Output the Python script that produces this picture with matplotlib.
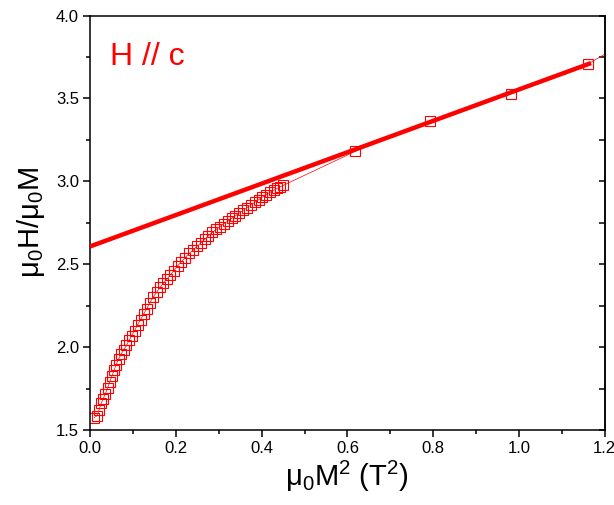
import matplotlib
matplotlib.use('Agg')
import matplotlib.pyplot as plt
from matplotlib.ticker import MultipleLocator
import numpy as np

plt.rcParams['font.family'] = ['Liberation Sans', 'DejaVu Sans']
plt.rcParams['mathtext.fontset'] = 'custom'
plt.rcParams['mathtext.rm'] = 'Liberation Sans'
plt.rcParams['mathtext.it'] = 'Liberation Sans'

# measured points: mu0 M^2 (T^2) vs mu0 H / mu0 M
m2 = [0.010, 0.016, 0.021, 0.026, 0.031, 0.036, 0.041, 0.046, 0.051, 0.056,
      0.061, 0.067, 0.073, 0.079, 0.085, 0.091, 0.097, 0.104, 0.111, 0.118,
      0.125, 0.132, 0.139, 0.147, 0.155, 0.163, 0.171, 0.179, 0.187, 0.195,
      0.204, 0.213, 0.222, 0.231, 0.240, 0.249, 0.258, 0.267, 0.276, 0.285,
      0.294, 0.303, 0.312, 0.321, 0.330, 0.339, 0.348, 0.357, 0.366, 0.375,
      0.384, 0.393, 0.402, 0.411, 0.420, 0.428, 0.436, 0.443, 0.450,
      0.618, 0.793, 0.981, 1.160, 1.340]
h_over_m = [1.575, 1.585, 1.620, 1.660, 1.690, 1.720, 1.755, 1.790, 1.825, 1.860,
            1.895, 1.930, 1.960, 1.985, 2.010, 2.040, 2.070, 2.100, 2.135, 2.165,
            2.200, 2.230, 2.265, 2.300, 2.330, 2.360, 2.385, 2.410, 2.435, 2.460,
            2.490, 2.515, 2.540, 2.565, 2.585, 2.607, 2.628, 2.650, 2.672, 2.692,
            2.710, 2.727, 2.744, 2.760, 2.776, 2.792, 2.808, 2.825, 2.841, 2.857,
            2.873, 2.889, 2.905, 2.920, 2.934, 2.946, 2.957, 2.966, 2.975,
            3.180, 3.364, 3.528, 3.706, 3.980]

# linear fit of the high-field part
fit_x = [0.0, 1.168]
fit_intercept = 2.607
fit_slope = 0.947

fig = plt.figure(figsize=(6.14, 5.05), dpi=100)
ax = fig.add_axes([0.1466, 0.1485, 0.8384, 0.8208])

ax.plot(m2, h_over_m, color='#ff0000', lw=0.5, marker='s', ms=6.8,
        mfc='none', mec='#ff0000', mew=0.8, clip_on=True, zorder=2)
fx = np.array(fit_x)
ax.plot(fx, fit_intercept + fit_slope * fx, color='#ff0000', lw=3.2,
        solid_capstyle='butt', zorder=3)

ax.set_xlim(0, 1.2)
ax.set_ylim(1.5, 4.0)
ax.xaxis.set_major_locator(MultipleLocator(0.2))
ax.xaxis.set_minor_locator(MultipleLocator(0.1))
ax.yaxis.set_major_locator(MultipleLocator(0.5))
ax.yaxis.set_minor_locator(MultipleLocator(0.25))
ax.xaxis.set_major_formatter(matplotlib.ticker.FormatStrFormatter('%.1f'))
ax.yaxis.set_major_formatter(matplotlib.ticker.FormatStrFormatter('%.1f'))

for s in ax.spines.values():
    s.set_linewidth(1.1)
ax.tick_params(which='both', direction='out', labelsize=12, width=1.1,
               top=False, right=False)
ax.tick_params(which='major', length=5, pad=3)
ax.tick_params(which='minor', length=3)

# inward ticks on the right spine, same length for major and minor
rax = ax.secondary_yaxis('right')
rax.yaxis.set_major_locator(MultipleLocator(0.25))
rax.tick_params(direction='in', length=4, width=1.1, labelright=False)
rax.spines['right'].set_linewidth(1.1)

ax.set_xlabel(r'$\mathregular{\mu_0M^2\ (T^2)}$', fontsize=21, labelpad=2)
ax.set_ylabel(r'$\mathregular{\mu_0H/\mu_0M}$', fontsize=21, labelpad=6)

ax.text(0.039, 0.88, 'H // c', transform=ax.transAxes, color='#ff0000',
        fontsize=23, ha='left', va='baseline')

fig.savefig('out.png', dpi=100)
